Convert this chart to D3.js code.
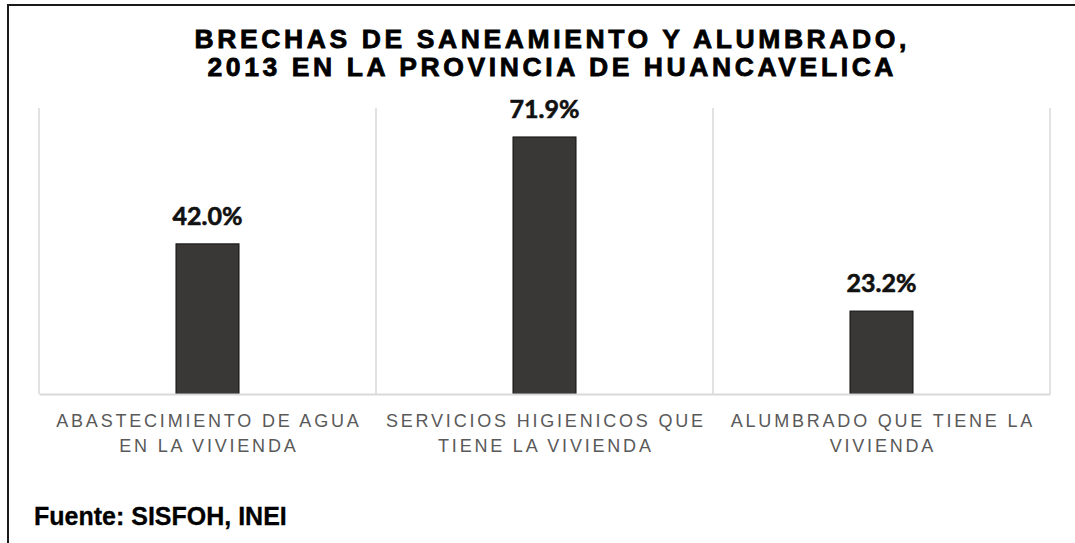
<!DOCTYPE html>
<html>
<head>
<meta charset="utf-8">
<script src="https://cdn.jsdelivr.net/npm/d3@7"></script>
<style>
  body { margin: 0; background: #fff; }
  svg { display: block; }
</style>
</head>
<body>
<script>
//DATA
const categories = ["ABASTECIMIENTO DE AGUA EN LA VIVIENDA", "SERVICIOS HIGIENICOS QUE TIENE LA VIVIENDA", "ALUMBRADO QUE TIENE LA VIVIENDA"];
const categoryLines = [["ABASTECIMIENTO DE AGUA", "EN LA VIVIENDA"], ["SERVICIOS HIGIENICOS QUE", "TIENE LA VIVIENDA"], ["ALUMBRADO QUE TIENE LA", "VIVIENDA"]];
const values = [42.0, 71.9, 23.2];
const titleLines = ["BRECHAS DE SANEAMIENTO Y ALUMBRADO,", "2013 EN LA PROVINCIA DE HUANCAVELICA"];
const source = "Fuente: SISFOH, INEI";
const yDomain = [0, 80];

//USEFUL VARIABLES
const svgwidth = 1075;
const svgheight = 543;
const margin = { top: 108, right: 25, bottom: 149, left: 39 };
const graphwidth = 1050 - margin.left;
const graphheight = svgheight - (margin.top + margin.bottom);

const svg = d3.select("body").append("svg")
  .attr("width", svgwidth)
  .attr("height", svgheight);

svg.append("rect").attr("width", svgwidth).attr("height", svgheight).attr("fill", "#fff");

//OUTER BORDER (top + left only visible)
svg.append("path")
  .attr("d", `M8,${svgheight} L8,5 L${svgwidth},5`)
  .attr("fill", "none")
  .attr("stroke", "#1a1a1a")
  .attr("stroke-width", 2);

//TITLE
const titleLs = 3.6;
svg.append("g").selectAll("text")
  .data(titleLines)
  .join("text")
  .attr("x", 550.5 + titleLs / 2)
  .attr("y", (d, i) => 48 + i * 28)
  .attr("text-anchor", "middle")
  .attr("font-family", "'Liberation Sans', Arial, sans-serif")
  .attr("font-weight", "bold")
  .attr("font-size", 26.5)
  .attr("letter-spacing", titleLs)
  .attr("fill", "#000")
  .attr("stroke", "#000")
  .attr("stroke-width", 0.8)
  .text(d => d);

//GRAPH GROUP
const graph = svg.append("g")
  .attr("transform", `translate(${margin.left}, ${margin.top})`);

//SCALES
const X = d3.scaleBand()
  .domain(categories)
  .range([0, graphwidth])
  .padding(0);

const Y = d3.scaleLinear()
  .domain(yDomain)
  .range([graphheight, 0]);

//VERTICAL GRIDLINES BETWEEN CATEGORIES
const bounds = d3.range(categories.length + 1).map(i => i * X.step());
graph.append("g").selectAll("line")
  .data(bounds)
  .join("line")
  .attr("x1", d => d)
  .attr("x2", d => d)
  .attr("y1", 0)
  .attr("y2", graphheight)
  .attr("stroke", "#d9d9d9")
  .attr("stroke-width", 1.5);

//BARS
const barw = X.bandwidth() * 0.187;
graph.append("g").selectAll("rect")
  .data(values)
  .join("rect")
  .attr("x", (d, i) => X(categories[i]) + X.bandwidth() / 2 - barw / 2)
  .attr("y", d => Y(d))
  .attr("width", barw)
  .attr("height", d => graphheight - Y(d))
  .attr("fill", "#3a3836")
  .attr("stroke", "#111")
  .attr("stroke-width", 1);

//BOTTOM AXIS LINE
graph.append("g")
  .attr("transform", `translate(0, ${graphheight})`)
  .call(d3.axisBottom(X).tickSize(0).tickFormat(""))
  .call(g => g.select(".domain").attr("stroke", "#d9d9d9").attr("stroke-width", 2));

//DATA LABELS
graph.append("g").selectAll("text")
  .data(values)
  .join("text")
  .attr("x", (d, i) => X(categories[i]) + X.bandwidth() / 2)
  .attr("y", d => Y(d) - 19)
  .attr("text-anchor", "middle")
  .attr("font-family", "Lato, sans-serif")
  .attr("font-weight", "bold")
  .attr("font-size", 25)
  .attr("fill", "#111")
  .attr("stroke", "#111")
  .attr("stroke-width", 0.6)
  .text(d => d3.format(".1f")(d) + "%");

//CATEGORY LABELS
const catLs = 2.8;
const catg = graph.append("g").selectAll("text")
  .data(categories)
  .join("text")
  .attr("text-anchor", "middle")
  .attr("font-family", "'Liberation Sans', Arial, sans-serif")
  .attr("font-size", 18)
  .attr("letter-spacing", catLs)
  .attr("fill", "#595959");
catg.selectAll("tspan")
  .data((d, i) => categoryLines[i].map(l => ({ l, c: d })))
  .join("tspan")
  .attr("x", d => X(d.c) + X.bandwidth() / 2 + catLs / 2)
  .attr("y", (d, j) => graphheight + 33 + j * 25)
  .text(d => d.l);

//SOURCE
svg.append("text")
  .attr("x", 34)
  .attr("y", 525)
  .attr("font-family", "'Liberation Sans', Arial, sans-serif")
  .attr("font-weight", "bold")
  .attr("font-size", 25)
  .attr("fill", "#000")
  .attr("stroke", "#000")
  .attr("stroke-width", 0.3)
  .text(source);
</script>
</body>
</html>
